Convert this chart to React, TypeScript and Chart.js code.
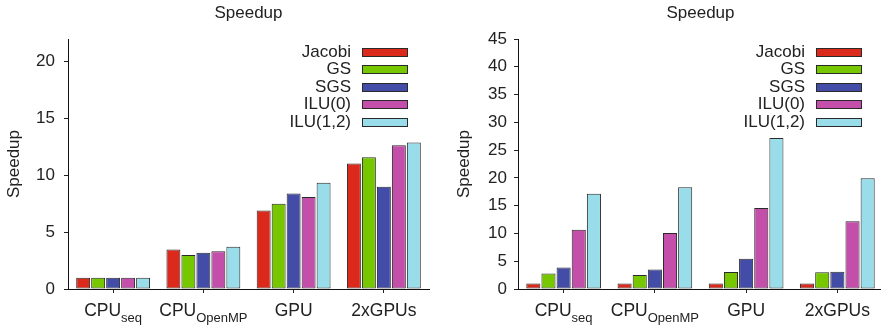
import React, { useEffect, useRef } from 'react';
import { Chart, registerables } from 'chart.js';

Chart.register(...registerables);

// ---- data ----
const catMain = ['CPU', 'CPU', 'GPU', '2xGPUs'];
const catSub = ['seq', 'OpenMP', '', ''];
const seriesNames = ['Jacobi', 'GS', 'SGS', 'ILU(0)', 'ILU(1,2)'];
const seriesColors = ['#DB2A1B', '#76C600', '#434CA6', '#C44FAB', '#9ADDEA'];

// left panel
const leftJacobi = [1, 3.48, 6.9, 11.05];
const leftGS = [1, 3.0, 7.5, 11.6];
const leftSGS = [1, 3.2, 8.4, 9.0];
const leftILU0 = [1, 3.33, 8.1, 12.66];
const leftILU12 = [1, 3.71, 9.36, 12.9];

// right panel
const rightJacobi = [1, 1, 1, 1];
const rightGS = [2.8, 2.5, 3.05, 3.0];
const rightSGS = [3.85, 3.5, 5.45, 3.1];
const rightILU0 = [10.65, 10.1, 14.6, 12.2];
const rightILU12 = [17.15, 18.3, 27.2, 19.95];

const leftYMax = 22;
const rightYMax = 45;
const yStep = 5;
const chartTitle = 'Speedup';
const yTitle = 'Speedup';

const FAMILY = '"Liberation Sans", Arial, Helvetica, sans-serif';
const TEXT = '#222';

const decor = {
  id: 'decor',
  afterDraw(chart: any, _args: any, opts: any) {
    const ctx = chart.ctx as CanvasRenderingContext2D;
    const ca = chart.chartArea;
    ctx.save();
    ctx.fillStyle = TEXT;
    // title
    ctx.font = `17px ${FAMILY}`;
    ctx.textAlign = 'center';
    ctx.textBaseline = 'alphabetic';
    ctx.fillText(opts.title, (ca.left + ca.right) / 2, 18);
    // y title
    ctx.save();
    ctx.translate(ca.left - 49, (ca.top + ca.bottom) / 2);
    ctx.rotate(-Math.PI / 2);
    ctx.textAlign = 'center';
    ctx.fillText(opts.yTitle, 0, 0);
    ctx.restore();
    // x labels with subscripts
    const xs = chart.scales.x;
    const mainFont = `17.5px ${FAMILY}`;
    const subFont = `13px ${FAMILY}`;
    catMain.forEach((m, i) => {
      const sub = catSub[i];
      ctx.font = mainFont;
      const wm = ctx.measureText(m).width;
      ctx.font = subFont;
      const ws = sub ? ctx.measureText(sub).width : 0;
      const cx = xs.getPixelForValue(i);
      const x0 = cx - (wm + ws) / 2;
      ctx.textAlign = 'left';
      ctx.textBaseline = 'alphabetic';
      ctx.font = mainFont;
      ctx.fillText(m, x0, ca.bottom + 27);
      if (sub) {
        ctx.font = subFont;
        ctx.fillText(sub, x0 + wm, ca.bottom + 33);
      }
    });
    // legend inside plot area
    chart.data.datasets.forEach((ds: any, i: number) => {
      const bw = 46;
      const bh = 9;
      const bx = Math.round(ca.right - 21 - bw);
      const cy = ca.top + 13 + i * 17.6;
      const by = Math.round(cy - bh / 2);
      ctx.fillStyle = ds.backgroundColor;
      ctx.fillRect(bx, by, bw, bh);
      ctx.strokeStyle = '#2a2a2a';
      ctx.lineWidth = 1;
      ctx.strokeRect(bx + 0.5, by + 0.5, bw - 1, bh - 1);
      ctx.fillStyle = TEXT;
      ctx.font = `17px ${FAMILY}`;
      ctx.textAlign = 'right';
      ctx.textBaseline = 'middle';
      ctx.fillText(ds.label, bx - 11, cy);
    });
    ctx.restore();
  },
};

function makeConfig(series: number[][], yMax: number, yWidth: number, padRight: number, tickPad: number): any {
  return {
    type: 'bar',
    data: {
      labels: catMain.map((m, i) => m + catSub[i]),
      datasets: series.map((vals, i) => ({
        label: seriesNames[i],
        data: vals,
        backgroundColor: seriesColors[i],
        borderColor: '#2a2a2a',
        borderWidth: 1,
        borderSkipped: false,
        categoryPercentage: 0.83,
        barPercentage: 0.93,
      })),
    },
    options: {
      responsive: false,
      animation: false,
      layout: { padding: { left: 0, right: padRight, top: 39, bottom: 0 } },
      plugins: {
        legend: { display: false },
        title: { display: false },
        tooltip: { enabled: false },
        decor: { title: chartTitle, yTitle },
      },
      scales: {
        x: {
          type: 'category',
          offset: true,
          grid: { display: true, drawOnChartArea: false, drawTicks: true, tickLength: 4, offset: false, color: '#222' },
          border: { display: true, color: '#111', width: 1 },
          ticks: { display: false },
          afterFit: (s: any) => {
            s.height = 38;
          },
        },
        y: {
          min: 0,
          max: yMax,
          grid: { display: true, drawOnChartArea: false, drawTicks: true, tickLength: 4, color: '#222' },
          border: { display: true, color: '#111', width: 1 },
          ticks: { stepSize: yStep, includeBounds: false, padding: tickPad, color: TEXT, font: { size: 17, family: FAMILY } },
          afterFit: (s: any) => {
            s.width = yWidth;
          },
        },
      },
    },
    plugins: [decor],
  };
}

function Panel(props: { series: number[][]; yMax: number; width: number; yWidth: number; padRight: number; tickPad: number; left: number }) {
  const ref = useRef<HTMLCanvasElement>(null);
  useEffect(() => {
    if (!ref.current) return;
    const chart = new Chart(ref.current, makeConfig(props.series, props.yMax, props.yWidth, props.padRight, props.tickPad));
    return () => chart.destroy();
  }, []);
  return (
    <canvas
      ref={ref}
      width={props.width}
      height={327}
      style={{ position: 'absolute', left: props.left, top: 0, width: props.width, height: 327 }}
    />
  );
}

export default function App() {
  return (
    <div style={{ position: 'absolute', left: 0, top: 0, width: 881, height: 327, overflow: 'hidden', background: '#fff' }}>
      <Panel
        series={[leftJacobi, leftGS, leftSGS, leftILU0, leftILU12]}
        yMax={leftYMax}
        width={440}
        yWidth={68}
        padRight={11}
        tickPad={9}
        left={0}
      />
      <Panel
        series={[rightJacobi, rightGS, rightSGS, rightILU0, rightILU12]}
        yMax={rightYMax}
        width={445}
        yWidth={78}
        padRight={2}
        tickPad={7}
        left={440}
      />
    </div>
  );
}
